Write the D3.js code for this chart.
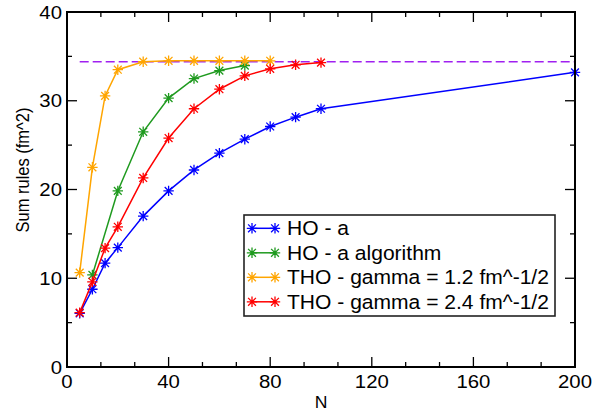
<!DOCTYPE html>
<html><head><meta charset="utf-8">
<script src="https://cdn.jsdelivr.net/npm/d3@7"></script>
<style>body{margin:0;background:#fff}svg{display:block}text{font-family:"Liberation Sans",Arial,sans-serif;fill:#000}</style>
</head><body><svg id="c" width="593" height="416"></svg>
<script>
const nHO   = [5,10,15,20,30,40,50,60,70,80,90,100,200];
const hoA   = [6.05,8.76,11.7,13.45,17.0,19.84,22.2,24.1,25.67,27.1,28.15,29.1,33.2];
const nAlg  = [10,20,30,40,50,60,70];
const hoAlg = [10.37,19.84,26.5,30.3,32.5,33.4,33.97];
const nT12  = [5,10,15,20,30,40,50,60,70,80];
const tho12 = [10.63,22.5,30.55,33.5,34.4,34.5,34.5,34.5,34.5,34.5];
const nT24  = [5,10,15,20,30,40,50,60,70,80,90,100];
const tho24 = [6.13,9.6,13.4,15.8,21.3,25.8,29.1,31.3,32.8,33.6,34.05,34.3];
const limitN = [5,200];
const limitV = [34.4,34.4];
const xTicks = [0,40,80,120,160,200];
const yTicks = [0,10,20,30,40];
const labels = ["HO - a","HO - a algorithm","THO - gamma = 1.2 fm^-1/2","THO - gamma = 2.4 fm^-1/2"];
const colors = ["#0000ff","#1f9a1f","#ffa500","#ff0000"];

const L=67,R=575,T=12,B=367;
const x=d3.scaleLinear().domain([0,200]).range([L,R]);
const y=d3.scaleLinear().domain([0,40]).range([B,T]);
const svg=d3.select("#c");
const SX=1.1;

const series=[[nHO,hoA],[nAlg,hoAlg],[nT12,tho12],[nT24,tho24]].map((s,i)=>({pts:s[0].map((n,j)=>[n,s[1][j]]),c:colors[i]}));
const line=d3.line().x(d=>x(d[0])).y(d=>y(d[1]));

// limit dashed line
svg.append("path").datum(limitN.map((n,j)=>[n,limitV[j]])).attr("d",line)
  .attr("fill","none").attr("stroke","#a020f0").attr("stroke-width",1.6).attr("stroke-dasharray","9,4");

function star(g,cx,cy,c){
  const r=5.2,d=3.9;
  g.append("path").attr("d",`M${cx-r},${cy}H${cx+r}M${cx},${cy-r}V${cy+r}M${cx-d},${cy-d}L${cx+d},${cy+d}M${cx-d},${cy+d}L${cx+d},${cy-d}`)
   .attr("stroke",c).attr("stroke-width",1.3).attr("fill","none");
}
series.forEach(s=>{
  svg.append("path").datum(s.pts).attr("d",line).attr("fill","none").attr("stroke",s.c).attr("stroke-width",1.5);
  const g=svg.append("g");
  s.pts.forEach(p=>star(g,x(p[0]),y(p[1]),s.c));
});

// frame
svg.append("rect").attr("x",L).attr("y",T).attr("width",R-L).attr("height",B-T)
  .attr("fill","none").attr("stroke","#000").attr("stroke-width",2);

// ticks
const tk=svg.append("g").attr("stroke","#000").attr("stroke-width",1.3);
d3.range(0,200.01,40/3).forEach((v,i)=>{
  const len=(i%3===0)?10:5, px=x(v);
  tk.append("line").attr("x1",px).attr("x2",px).attr("y1",B).attr("y2",B-len);
  tk.append("line").attr("x1",px).attr("x2",px).attr("y1",T).attr("y2",T+len);
});
d3.range(0,40.01,5).forEach((v,i)=>{
  const len=(i%2===0)?10:5, py=y(v);
  tk.append("line").attr("y1",py).attr("y2",py).attr("x1",L).attr("x2",L+len);
  tk.append("line").attr("y1",py).attr("y2",py).attr("x1",R).attr("x2",R-len);
});

// tick labels
xTicks.forEach(v=>{
  svg.append("text").attr("transform",`translate(${x(v)},388) scale(${SX},1)`)
   .attr("text-anchor","middle").attr("font-size",18.5).text(v);
});
yTicks.forEach(v=>{
  svg.append("text").attr("transform",`translate(62,${y(v)+6.7}) scale(${SX},1)`)
   .attr("text-anchor","end").attr("font-size",18.5).text(v);
});

// axis titles
svg.append("text").attr("transform",`translate(321,408) scale(${SX},1)`).attr("text-anchor","middle")
  .attr("font-size",16).text("N");
svg.append("text").attr("transform",`translate(28.5,170) scale(${SX},1) rotate(-90)`).attr("text-anchor","middle")
  .attr("font-size",16.5).text("Sum rules (fm^2)");

// legend
const lg=svg.append("g");
lg.append("rect").attr("x",244).attr("y",215).attr("width",311).attr("height",101)
  .attr("fill","#fff").attr("stroke","#222").attr("stroke-width",1.6);
labels.forEach((t,i)=>{
  const yy=228.3+i*24.5;
  lg.append("line").attr("x1",252).attr("x2",275).attr("y1",yy).attr("y2",yy).attr("stroke",colors[i]).attr("stroke-width",1.5);
  star(lg,252,yy,colors[i]); star(lg,275,yy,colors[i]);
  lg.append("text").attr("transform",`translate(287,${yy+7}) scale(1.08,1)`).attr("font-size",19.5).text(t);
});
</script></body></html>
